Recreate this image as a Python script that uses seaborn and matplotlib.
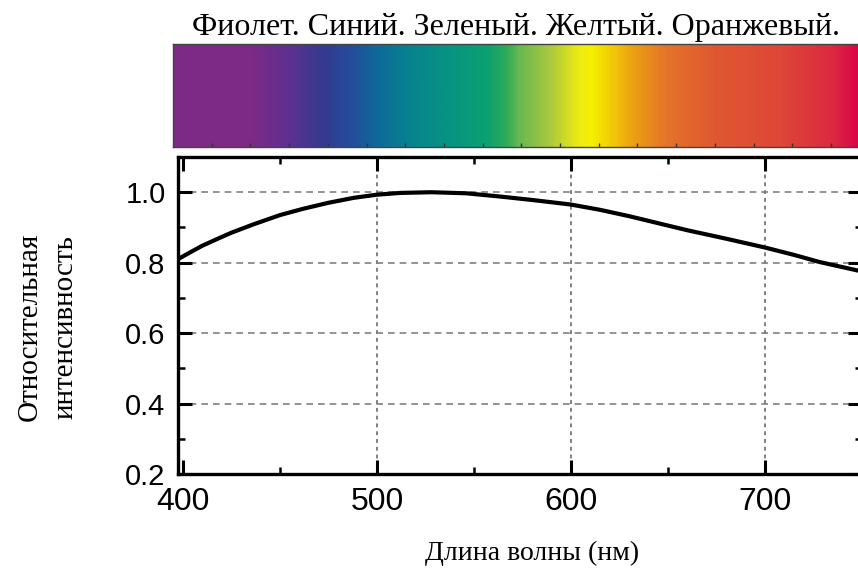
import matplotlib
matplotlib.use("Agg")
import matplotlib.pyplot as plt
import numpy as np
import seaborn as sns
from matplotlib.colors import LinearSegmentedColormap
from matplotlib.ticker import MultipleLocator

# relative intensity
wavelength = [397.5, 404, 410, 418, 425, 436, 450, 462, 475, 488, 500, 512, 528, 546,
              563, 580, 600, 615, 630, 645, 660, 680, 700, 715, 728, 750]
intensity = [0.810, 0.830, 0.848, 0.868, 0.885, 0.908, 0.935, 0.953, 0.970, 0.984, 0.993, 0.998,
             1.000, 0.997, 0.988, 0.978, 0.965, 0.950, 0.932, 0.912, 0.892, 0.868, 0.843, 0.822,
             0.802, 0.775]

x_ticks = [400, 500, 600, 700]
y_ticks = [0.2, 0.4, 0.6, 0.8, 1.0]

# colour stops of the spectrum strip (fraction of strip width)
spec_pos = [0.0, 0.112, 0.171, 0.218, 0.258, 0.298, 0.346, 0.404, 0.458, 0.485, 0.507,
            0.550, 0.594, 0.612, 0.638, 0.672, 0.721, 0.794, 0.891, 0.964, 1.0]
spec_col = ["#7E2A86", "#7D2A86", "#5C3190", "#343A8F", "#254C9B", "#0E6B9A", "#07838F",
            "#079483", "#0CA070", "#2BAA5A", "#6CB850", "#A8C840", "#EEEB12", "#F6F000",
            "#F2CF08", "#ECA012", "#E4732A", "#E05832", "#DE4638", "#DC2A40", "#DB0848"]

title = "Фиолет. Синий. Зеленый. Желтый. Оранжевый."
xlabel = "Длина волны (нм)"
ylabel = ["Относительная", "интенсивность"]

sns.set_theme(style="ticks")
plt.rcParams["font.family"] = ["Liberation Sans", "DejaVu Sans"]
serif = ["Liberation Serif", "DejaVu Serif"]

fig = plt.figure(figsize=(8.58, 5.69), dpi=100)

# spectrum strip
sax = fig.add_axes([173 / 858, 1 - 147 / 569, 685 / 858, 103 / 569])
cmap = LinearSegmentedColormap.from_list("spec", list(zip(spec_pos, spec_col)))
grad = np.linspace(0, 1, 600)[None, :]
sax.imshow(grad, aspect="auto", cmap=cmap, extent=[0, 1, 0, 1])
sax.set_xlim(0, 1)
sax.set_ylim(0, 1)
sax.set_xticks(np.arange(1, 18) / 17.7)
sax.set_yticks([])
sax.tick_params(axis="x", direction="in", length=3, width=1, color="#333333",
                labelbottom=False)
for sp in sax.spines.values():
    sp.set_linewidth(1.0)
    sp.set_color("#444444")

# main plot
ax = fig.add_axes([178 / 858, 95 / 569, 684 / 858, 317 / 569])
sns.lineplot(x=wavelength, y=intensity, ax=ax, color="black", linewidth=3.0,
             estimator=None, sort=True)
ax.set_xlim(397.5, 750)
ax.set_ylim(0.2, 1.1)
ax.set_xticks(x_ticks)
ax.set_yticks(y_ticks)
ax.set_yticklabels([f"{v:.1f}" for v in y_ticks])
ax.xaxis.set_minor_locator(MultipleLocator(50))
ax.yaxis.set_minor_locator(MultipleLocator(0.1))
ax.tick_params(which="both", direction="in", top=True, right=True, color="black")
ax.tick_params(which="major", length=10, width=2.2)
ax.tick_params(which="minor", length=5, width=1.8)
ax.tick_params(axis="x", which="major", labelsize=23, pad=9)
ax.tick_params(axis="y", which="major", labelsize=21, pad=9)
for lab in ax.get_xticklabels() + ax.get_yticklabels():
    lab.set_color("black")
for sp in ax.spines.values():
    sp.set_linewidth(2.4)
    sp.set_color("black")

for v in x_ticks[1:]:
    ax.axvline(v, color="#808080", linestyle=(0, (2, 2)), linewidth=1.4, zorder=0)
for v in y_ticks[1:]:
    ax.axhline(v, color="#808080", linestyle=(0, (4, 3)), linewidth=1.2, zorder=0)

fig.text(0.601, 1 - 28 / 569, title, ha="center", va="center", fontsize=23,
         family=serif, color="black")
fig.text(0.620, 1 - 553 / 569, xlabel, ha="center", va="center", fontsize=20,
         family=serif, color="black")
fig.text(30 / 858, 1 - 327 / 569, ylabel[0], ha="center", va="center", rotation=90,
         fontsize=21, family=serif, color="black")
fig.text(66 / 858, 1 - 327 / 569, ylabel[1], ha="center", va="center", rotation=90,
         fontsize=21, family=serif, color="black")

fig.savefig("out.png", dpi=100)
